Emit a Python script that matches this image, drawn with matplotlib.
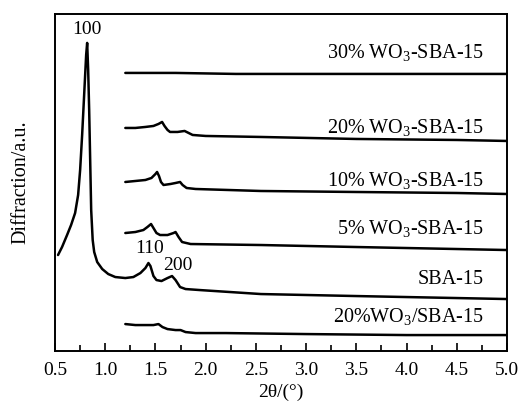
import numpy as np
import matplotlib.pyplot as plt
from matplotlib.ticker import MultipleLocator

plt.rcParams['font.family'] = ['Liberation Serif', 'DejaVu Serif']
plt.rcParams['mathtext.fontset'] = 'custom'
plt.rcParams['mathtext.rm'] = 'Liberation Serif'
plt.rcParams['mathtext.it'] = 'Liberation Serif:italic'

# SBA-15 (full range)
x_sba = [0.53, 0.57, 0.62, 0.66, 0.70, 0.73, 0.75, 0.77, 0.79, 0.81,
         0.82, 0.83, 0.84, 0.85, 0.86, 0.875, 0.89, 0.92, 0.97, 1.03,
         1.10, 1.20, 1.28, 1.35, 1.40, 1.43, 1.45, 1.48, 1.51, 1.56,
         1.62, 1.665, 1.70, 1.745, 1.80, 1.94, 2.55, 3.5, 4.5, 5.0]
y_sba = [96, 104, 116, 126, 138, 156, 181, 216, 256, 296,
         308, 281, 241, 191, 141, 111, 99, 89, 82, 77,
         74, 73, 74, 78, 83, 88, 85, 75, 71, 70,
         73, 75, 71, 64, 62, 61, 57, 55, 53, 52]

# 20% WO3-SBA-15
x_20 = [1.2, 1.30, 1.40, 1.48, 1.53, 1.566, 1.59, 1.62, 1.645, 1.72, 1.79, 1.83, 1.87, 2.0, 2.55, 3.5, 4.5, 5.0]
y_20 = [223, 223, 224, 225, 227, 229, 225, 221, 219, 219, 220, 218, 216, 215, 214, 212, 211, 210]

# 10% WO3-SBA-15
x_10 = [1.2, 1.30, 1.40, 1.46, 1.50, 1.516, 1.535, 1.555, 1.58, 1.65, 1.70, 1.745, 1.77, 1.81, 1.9, 2.55, 3.5, 4.5, 5.0]
y_10 = [169, 170, 171, 173, 177, 179, 175, 169, 166, 167, 168, 169, 166, 163, 162, 160, 159, 158, 157]

# 5% WO3-SBA-15
x_5 = [1.2, 1.30, 1.38, 1.42, 1.456, 1.48, 1.51, 1.546, 1.62, 1.68, 1.70, 1.73, 1.765, 1.85, 2.55, 3.5, 4.5, 5.0]
y_5 = [118, 119, 121, 124, 127, 123, 118, 116, 116, 118, 119, 114, 109, 107, 106, 104, 102, 101]

# 30% WO3-SBA-15
x_30 = [1.2, 1.7, 2.3, 5.0]
y_30 = [278, 278, 277, 277]

# 20% WO3/SBA-15 (impregnated)
x_imp = [1.2, 1.30, 1.40, 1.48, 1.53, 1.57, 1.62, 1.70, 1.75, 1.80, 1.9, 2.2, 3.0, 4.0, 5.0]
y_imp = [27, 26, 26, 26, 27, 24, 22, 21, 21, 19, 18, 18, 17, 16, 16]

labels = ['30% WO$_3$-SBA-15', '20% WO$_3$-SBA-15', '10% WO$_3$-SBA-15',
          '5% WO$_3$-SBA-15', 'SBA-15', '20%WO$_3$/SBA-15']
label_y = [293, 218, 165, 117, 67, 29]

fig = plt.figure(figsize=(5.22, 4.04), dpi=100)
ax = fig.add_axes([0.1054, 0.131, 0.8659, 0.8346])

for xs, ys in [(x_sba, y_sba), (x_20, y_20), (x_10, y_10), (x_5, y_5), (x_30, y_30), (x_imp, y_imp)]:
    ax.plot(xs, ys, color='black', lw=1.8, solid_joinstyle='round', solid_capstyle='round')

for lab, ly in zip(labels, label_y):
    ax.text(4.77, ly, lab, ha='right', va='baseline', fontsize=14.5)

ax.text(0.82, 321, '100', ha='center', va='center', fontsize=14)
ax.text(1.446, 103, '110', ha='center', va='center', fontsize=14)
ax.text(1.725, 86, '200', ha='center', va='center', fontsize=14)

ax.set_xlim(0.5, 5.0)
ax.set_ylim(0, 337)
ax.xaxis.set_major_locator(MultipleLocator(0.5))
ax.xaxis.set_minor_locator(MultipleLocator(0.25))
ax.tick_params(axis='x', which='both', direction='in', labelsize=14, width=1.2)
ax.tick_params(axis='x', which='major', length=6, pad=8)
ax.tick_params(axis='x', which='minor', length=4)
ax.set_yticks([])
for s in ax.spines.values():
    s.set_linewidth(1.4)

ax.set_xlabel('2θ/(°)', fontsize=14, labelpad=3)
ax.set_ylabel('Diffraction/a.u.', fontsize=14.5, labelpad=18)

fig.savefig('out.png', dpi=100)
